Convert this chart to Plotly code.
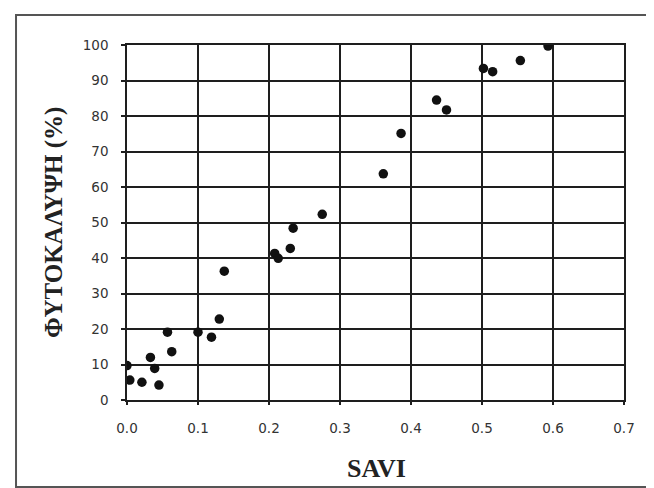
import plotly.graph_objects as go

savi = [0.000, 0.004, 0.021, 0.033, 0.039, 0.045, 0.057, 0.063, 0.100, 0.119,
        0.130, 0.137, 0.208, 0.213, 0.230, 0.234, 0.275, 0.361, 0.386, 0.436,
        0.450, 0.502, 0.515, 0.554, 0.593]
cover = [9.7, 5.6, 5.0, 12.0, 8.9, 4.2, 19.1, 13.6, 19.1, 17.7,
         22.8, 36.3, 41.3, 39.9, 42.7, 48.4, 52.3, 63.7, 75.1, 84.5,
         81.7, 93.4, 92.5, 95.6, 99.7]

x_ticks = [0.0, 0.1, 0.2, 0.3, 0.4, 0.5, 0.6, 0.7]
x_labels = ["0.0", "0.1", "0.2", "0.3", "0.4", "0.5", "0.6", "0.7"]
y_ticks = [0, 10, 20, 30, 40, 50, 60, 70, 80, 90, 100]
y_labels = [str(v) for v in y_ticks]

fig = go.Figure()
fig.add_trace(go.Scatter(
    x=savi, y=cover, mode="markers",
    marker=dict(color="#111111", size=9.5, line=dict(width=0)),
    showlegend=False, hoverinfo="skip"))

tickfont = dict(family="DejaVu Sans", size=13.5, color="#333333")
axis_common = dict(showgrid=True, gridcolor="#1e1e1e", gridwidth=1.6,
                   showline=True, linecolor="#1e1e1e", linewidth=1.6,
                   zeroline=False, mirror=True, ticks="outside",
                   tickcolor="#1e1e1e", tickwidth=1.6, tickfont=tickfont)

fig.update_xaxes(range=[0, 0.7], tickvals=x_ticks, ticktext=x_labels,
                 ticklen=3, ticklabelstandoff=12, **axis_common)
fig.update_yaxes(range=[0, 100], tickvals=y_ticks, ticktext=y_labels,
                 ticklen=4, ticklabelstandoff=10, **axis_common)

fig.add_annotation(text="<b>ΦΥΤΟΚΑΛΥΨΗ (%)</b>", xref="paper", yref="paper",
                   x=-0.148, y=0.500, xanchor="center", yanchor="middle",
                   textangle=-90, showarrow=False,
                   font=dict(family="Liberation Serif", size=25, color="#222222"))
fig.add_annotation(text="<b>SAVI</b>", xref="paper", yref="paper",
                   x=0.503, y=-0.192, xanchor="center", yanchor="middle",
                   showarrow=False,
                   font=dict(family="Liberation Serif", size=26, color="#222222"))

fig.add_shape(type="rect", xref="paper", yref="paper",
              x0=-0.2233, x1=1.08, y0=-0.245, y1=1.0845,
              line=dict(color="#555555", width=2), layer="below")

fig.update_layout(width=646, height=480,
                  margin=dict(l=119, r=30, t=37, b=88),
                  paper_bgcolor="white", plot_bgcolor="white")

fig.write_html("out.html")
